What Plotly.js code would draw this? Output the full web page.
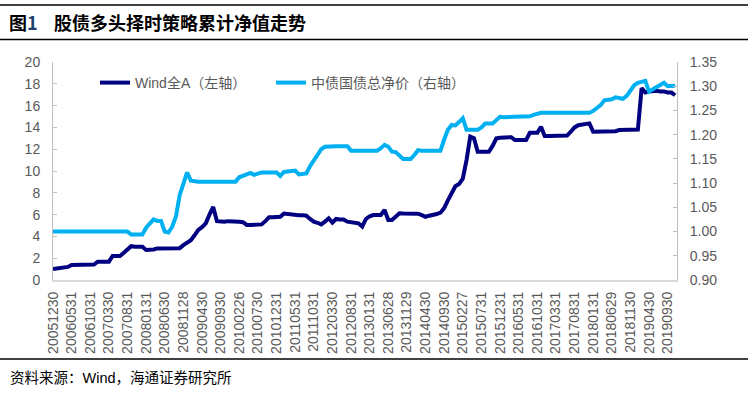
<!DOCTYPE html>
<html><head><meta charset="utf-8">
<script src="https://cdn.plot.ly/plotly-3.0.1.min.js"></script>
<style>html,body{margin:0;padding:0;background:#fff}#chart{width:748px;height:393px}</style>
</head><body><div id="chart"></div>
<script>
const tickLabels = ["20051230","20060531","20061031","20070330","20070831","20080131","20080630","20081128","20090430","20090930","20100226","20100730","20101231","20110531","20111031","20120330","20120831","20130131","20130628","20131129","20140430","20140930","20150227","20150731","20151231","20160531","20161031","20170331","20170831","20180131","20180629","20181130","20190430","20190930"];

const windA = [
1.00,1.05,1.08,1.10,1.20,1.38,1.40,1.40,1.40,1.40,
1.40,1.42,1.68,1.68,1.68,1.68,2.20,2.20,2.20,2.50,
2.85,3.10,3.05,3.08,3.05,2.75,2.75,2.80,2.90,2.90,
2.90,2.90,2.90,2.90,2.92,3.20,3.40,3.65,4.10,4.60,
4.85,5.20,6.00,6.70,5.40,5.35,5.35,5.40,5.40,5.35,
5.35,5.30,5.05,5.05,5.05,5.05,5.10,5.40,5.75,5.75,
5.75,5.80,6.10,6.05,6.00,6.00,5.95,5.95,5.90,5.60,
5.35,5.25,5.10,5.35,5.66,5.26,5.60,5.55,5.55,5.35,
5.30,5.25,5.20,4.90,5.60,5.85,5.96,5.96,5.96,6.42,
5.50,5.50,5.85,6.12,6.10,6.10,6.10,6.08,6.08,5.95,
5.80,5.90,5.96,6.05,6.18,6.60,7.30,8.00,8.60,8.80,
9.30,11.00,13.15,13.00,11.77,11.77,11.77,11.77,12.30,13.00,
13.05,13.05,13.10,13.10,12.84,12.84,12.84,12.84,13.50,13.50,
13.50,14.06,13.20,13.20,13.20,13.20,13.20,13.20,13.25,13.60,
14.00,14.20,14.25,14.30,14.37,13.60,13.60,13.60,13.60,13.60,
13.60,13.65,13.76,13.76,13.76,13.76,13.76,13.80,17.60,17.20,
17.30,17.37,17.35,17.30,17.30,17.20,17.20,16.95];

const bondIdx = [
1.000,1.000,1.000,1.000,1.000,1.000,1.000,1.000,1.000,1.000,
1.000,1.000,1.000,1.000,1.000,1.000,1.000,1.000,1.000,1.000,
1.000,0.994,0.994,0.994,0.994,1.008,1.018,1.025,1.022,1.022,
1.000,0.998,1.010,1.031,1.075,1.097,1.122,1.105,1.103,1.103,
1.103,1.103,1.103,1.103,1.103,1.103,1.103,1.103,1.103,1.103,
1.112,1.115,1.117,1.121,1.117,1.120,1.122,1.122,1.122,1.122,
1.122,1.115,1.123,1.124,1.125,1.126,1.118,1.118,1.120,1.135,
1.148,1.160,1.170,1.175,1.176,1.176,1.176,1.176,1.176,1.176,
1.167,1.167,1.167,1.167,1.167,1.167,1.167,1.167,1.172,1.179,
1.175,1.165,1.164,1.158,1.150,1.150,1.150,1.158,1.168,1.167,
1.167,1.167,1.167,1.167,1.167,1.190,1.210,1.220,1.219,1.226,
1.234,1.210,1.210,1.210,1.210,1.215,1.223,1.223,1.223,1.230,
1.237,1.236,1.236,1.236,1.236,1.236,1.236,1.236,1.238,1.241,
1.244,1.245,1.245,1.245,1.245,1.245,1.245,1.245,1.245,1.245,
1.245,1.245,1.245,1.245,1.245,1.249,1.254,1.261,1.271,1.272,
1.273,1.277,1.275,1.274,1.280,1.292,1.302,1.307,1.308,1.311,
1.289,1.293,1.298,1.302,1.307,1.300,1.300,1.301];

const seriesNames = ["Wind全A（左轴）", "中债国债总净价（右轴）"];
const titleText = "图<span style=\"color:#1f3f6e\">1</span>\u00A0\u00A0\u00A0\u00A0股债多头择时策略累计净值走势";
const sourceText = "资料来源：Wind，海通证券研究所";

const idx = windA.map((_, i) => i);
const tickVals = tickLabels.map((_, k) => k * 5);

const fontFam = "Liberation Sans, Arial, Noto Sans CJK SC, sans-serif";
const grey = "#595959";

const traces = [
  {x: idx, y: windA, type: "scatter", mode: "lines", name: seriesNames[0],
   line: {color: "#000080", width: 4}, yaxis: "y", legend: "legend"},
  {x: idx, y: bondIdx, type: "scatter", mode: "lines", name: seriesNames[1],
   line: {color: "#00b0f0", width: 4}, yaxis: "y2", legend: "legend2"}
];

// plot area in pixels: x 53..677, y 62..280
const L = 53, R = 677, T = 62, B = 280;
const px = v => (v - L) / (R - L);
const py = v => (B - v) / (B - T);

const legendCommon = {orientation: "h", xanchor: "left", yanchor: "middle",
  font: {family: fontFam, size: 14, color: grey}, bgcolor: "rgba(0,0,0,0)", itemwidth: 30};

const layout = {
  width: 748, height: 393,
  margin: {l: L, r: 748 - R, t: T, b: 393 - B, pad: 0},
  paper_bgcolor: "#fff", plot_bgcolor: "#fff",
  font: {family: fontFam, color: grey, size: 14},
  showlegend: true,
  legend: Object.assign({x: px(95), y: py(83)}, legendCommon),
  legend2: Object.assign({x: px(271), y: py(83)}, legendCommon),
  xaxis: {range: [0, 167.5], tickvals: tickVals, ticktext: tickLabels, tickangle: -90,
          showgrid: false, zeroline: false, showline: true, linecolor: "#d9d9d9", linewidth: 2,
          ticks: "", ticklabelstandoff: 4,
          tickfont: {family: fontFam, size: 14, color: grey}},
  yaxis: {range: [0, 20], dtick: 2, tick0: 0, showgrid: false, zeroline: false,
          showline: true, linecolor: "#bfbfbf", linewidth: 1, ticks: "inside", ticklen: 4,
          tickcolor: "#bfbfbf", ticklabelstandoff: 9,
          tickfont: {family: fontFam, size: 14, color: grey}},
  yaxis2: {range: [0.90, 1.35], dtick: 0.05, tick0: 0.90, tickformat: ".2f", overlaying: "y",
           side: "right", showgrid: false, zeroline: false, showline: true, linecolor: "#bfbfbf",
           linewidth: 1, ticks: "inside", ticklen: 4, tickcolor: "#bfbfbf", ticklabelstandoff: 9,
           tickfont: {family: fontFam, size: 14, color: grey}},
  shapes: [
    {type: "line", xref: "paper", yref: "paper", x0: px(0), x1: px(748), y0: py(5), y1: py(5),
     line: {color: "#000", width: 1.5}},
    {type: "line", xref: "paper", yref: "paper", x0: px(0), x1: px(748), y0: py(39.5), y1: py(39.5),
     line: {color: "#000", width: 1.5}},
    {type: "line", xref: "paper", yref: "paper", x0: px(0), x1: px(748), y0: py(359), y1: py(359),
     line: {color: "#000", width: 1.5}}
  ],
  annotations: [
    {xref: "paper", yref: "paper", x: px(7), y: py(22), xanchor: "left", yanchor: "middle",
     text: "<b>" + titleText + "</b>", showarrow: false,
     font: {family: "Noto Sans CJK SC, sans-serif", size: 18, color: "#000"}},
    {xref: "paper", yref: "paper", x: px(8), y: py(378), xanchor: "left", yanchor: "middle",
     text: sourceText, showarrow: false,
     font: {family: "Liberation Sans, Noto Sans CJK SC, sans-serif", size: 14.5, color: "#000"}}
  ]
};

Plotly.newPlot("chart", traces, layout, {displayModeBar: false, staticPlot: true});
</script>
</body></html>
